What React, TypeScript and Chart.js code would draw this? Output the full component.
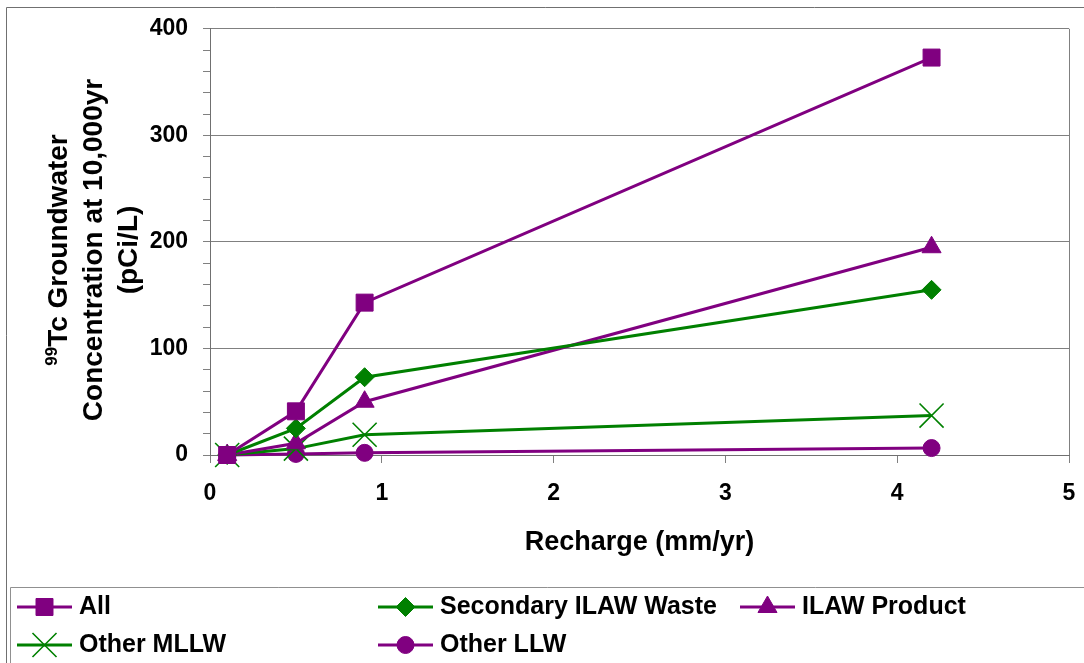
import React, { useEffect, useRef } from 'react';
import { Chart, registerables } from 'chart.js';
import { drawPoint } from 'chart.js/helpers';

Chart.register(...registerables);

// ---------- data ----------
const recharge = [0.1, 0.5, 0.9, 4.2];
const allValues = [0, 41, 143, 373];
const secondaryIlawWaste = [0, 25, 73, 155];
const ilawProduct = [0, 11, 50, 195];
const otherMllw = [0, 6, 19, 37];
const otherLlw = [0, 1, 2, 6.5];

const seriesNames = ['All', 'Secondary ILAW Waste', 'ILAW Product', 'Other MLLW', 'Other LLW'];
const xTickValues = [0, 1, 2, 3, 4, 5];
const yMajorTicks = [0, 100, 200, 300, 400];
const xTitle = 'Recharge (mm/yr)';
const yTitleSup = '99';
const yTitleLines = ['Tc Groundwater', 'Concentration at 10,000yr', '(pCi/L)'];

// ---------- styles ----------
const PURPLE = '#800080';
const GREEN = '#008000';
const GRID = '#808080';
const FONT = '"Liberation Sans", Arial, sans-serif';

const seriesStyles = [
  { color: PURPLE, pointStyle: 'rect', radius: 12, borderWidth: 1 },
  { color: GREEN, pointStyle: 'rectRot', radius: 9.5, borderWidth: 1 },
  { color: PURPLE, pointStyle: 'triangle', radius: 11, borderWidth: 1 },
  { color: GREEN, pointStyle: 'crossRot', radius: 17, borderWidth: 1.6 },
  { color: PURPLE, pointStyle: 'circle', radius: 8.5, borderWidth: 1 },
];

const seriesValues = [allValues, secondaryIlawWaste, ilawProduct, otherMllw, otherLlw];

// legend layout (positions of each item: line start x, row y)
const legendSlots = [
  { x: 17, y: 607 },
  { x: 378, y: 607 },
  { x: 740, y: 607 },
  { x: 17, y: 645 },
  { x: 378, y: 645 },
];

const decorPlugin = {
  id: 'decor',
  beforeDraw(chart: any) {
    const ctx = chart.ctx;
    ctx.save();
    ctx.fillStyle = '#ffffff';
    ctx.fillRect(0, 0, chart.width, chart.height);
    ctx.strokeStyle = '#707070';
    ctx.lineWidth = 1;
    ctx.beginPath();
    ctx.moveTo(6.5, chart.height);
    ctx.lineTo(6.5, 7.5);
    ctx.lineTo(chart.width, 7.5);
    ctx.stroke();
    // legend box
    ctx.strokeStyle = '#909090';
    ctx.beginPath();
    ctx.moveTo(10.5, chart.height);
    ctx.lineTo(10.5, 587.5);
    ctx.lineTo(chart.width, 587.5);
    ctx.stroke();
    ctx.restore();
  },
  afterDraw(chart: any) {
    const ctx = chart.ctx;
    const area = chart.chartArea;
    ctx.save();
    ctx.fillStyle = '#000000';

    // x axis title
    ctx.font = `bold 27px ${FONT}`;
    ctx.textAlign = 'center';
    ctx.textBaseline = 'alphabetic';
    ctx.fillText(xTitle, (area.left + area.right) / 2, 550);

    // y axis title (rotated, three lines, superscript on first line)
    const cy = 250;
    const baselines = [67, 102, 137];
    yTitleLines.forEach((line, i) => {
      ctx.save();
      ctx.translate(baselines[i], cy);
      ctx.rotate(-Math.PI / 2);
      ctx.textBaseline = 'alphabetic';
      if (i === 0) {
        ctx.font = `bold 17px ${FONT}`;
        const wSup = ctx.measureText(yTitleSup).width;
        ctx.font = `bold 28px ${FONT}`;
        const wMain = ctx.measureText(line).width;
        const start = -(wSup + wMain) / 2;
        ctx.textAlign = 'left';
        ctx.font = `bold 17px ${FONT}`;
        ctx.fillText(yTitleSup, start, -10);
        ctx.font = `bold 28px ${FONT}`;
        ctx.fillText(line, start + wSup, 0);
      } else {
        ctx.font = `bold 28px ${FONT}`;
        ctx.textAlign = 'center';
        ctx.fillText(line, 0, 0);
      }
      ctx.restore();
    });

    // legend
    chart.data.datasets.forEach((ds: any, i: number) => {
      const slot = legendSlots[i];
      const st = seriesStyles[i];
      ctx.strokeStyle = st.color;
      ctx.lineWidth = 3;
      ctx.beginPath();
      ctx.moveTo(slot.x, slot.y);
      ctx.lineTo(slot.x + 55, slot.y);
      ctx.stroke();
      ctx.fillStyle = st.color;
      ctx.strokeStyle = st.color;
      ctx.lineWidth = st.borderWidth;
      drawPoint(ctx, { pointStyle: st.pointStyle, radius: st.radius, rotation: 0, borderWidth: st.borderWidth } as any, slot.x + 27.5, slot.y);
      ctx.fillStyle = '#000000';
      ctx.font = `bold 25px ${FONT}`;
      ctx.textAlign = 'left';
      ctx.textBaseline = 'middle';
      ctx.fillText(ds.label, slot.x + 62, slot.y);
    });
    ctx.restore();
  },
};

export default function App() {
  const canvasRef = useRef<HTMLCanvasElement | null>(null);

  useEffect(() => {
    if (!canvasRef.current) return;
    const datasets = seriesNames.map((name, i) => {
      const st = seriesStyles[i];
      return {
        label: name,
        data: recharge.map((x, j) => ({ x, y: seriesValues[i][j] })),
        borderColor: st.color,
        backgroundColor: st.color,
        borderWidth: 3,
        pointStyle: st.pointStyle,
        pointRadius: st.radius,
        pointHoverRadius: st.radius,
        pointBackgroundColor: st.color,
        pointBorderColor: st.color,
        pointBorderWidth: st.borderWidth,
        tension: 0,
        fill: false,
        clip: false,
      };
    });

    const chart = new Chart(canvasRef.current, {
      type: 'line',
      data: { datasets } as any,
      options: {
        animation: false,
        responsive: false,
        devicePixelRatio: 1,
        events: [],
        layout: { autoPadding: false, padding: { left: 0, top: 28, right: 15, bottom: 0 } },
        plugins: {
          legend: { display: false },
          title: { display: false },
          tooltip: { enabled: false },
        },
        scales: {
          x: {
            type: 'linear',
            min: xTickValues[0],
            max: xTickValues[xTickValues.length - 1],
            afterFit(scale: any) {
              scale.height = 208;
              scale.paddingLeft = 7;
              scale.paddingRight = 7;
            },
            afterBuildTicks(scale: any) {
              scale.ticks = xTickValues.map((v) => ({ value: v }));
            },
            ticks: {
              color: '#000000',
              font: { family: FONT, size: 23, weight: 'bold' },
              padding: 17,
              maxRotation: 0,
              autoSkip: false,
              callback: (v: any) => String(v),
            },
            grid: {
              drawOnChartArea: true,
              color: (c: any) => (c.tick && c.tick.value === 5 ? GRID : 'rgba(0,0,0,0)'),
              tickColor: GRID,
              tickLength: 8,
              lineWidth: 1,
            },
            border: { display: true, color: '#707070', width: 1 },
          },
          y: {
            type: 'linear',
            min: 0,
            max: 400,
            afterFit(scale: any) {
              scale.width = 210;
            },
            ticks: {
              stepSize: 20,
              color: '#000000',
              font: { family: FONT, size: 23, weight: 'bold' },
              padding: 15,
              autoSkip: false,
              callback: (v: any) => (yMajorTicks.includes(Number(v)) ? String(v) : ''),
            },
            grid: {
              drawOnChartArea: true,
              color: (c: any) => (c.tick && c.tick.value % 100 === 0 && c.tick.value !== 0 ? GRID : 'rgba(0,0,0,0)'),
              tickColor: GRID,
              tickLength: 7,
              lineWidth: 1,
            },
            border: { display: true, color: '#707070', width: 1 },
          },
        },
      } as any,
      plugins: [decorPlugin],
    });
    return () => chart.destroy();
  }, []);

  return (
    <div style={{ position: 'fixed', left: 0, top: 0, width: 1084, height: 663, background: '#fff' }}>
      <canvas ref={canvasRef} width={1084} height={663} style={{ width: 1084, height: 663, display: 'block' }} />
    </div>
  );
}
